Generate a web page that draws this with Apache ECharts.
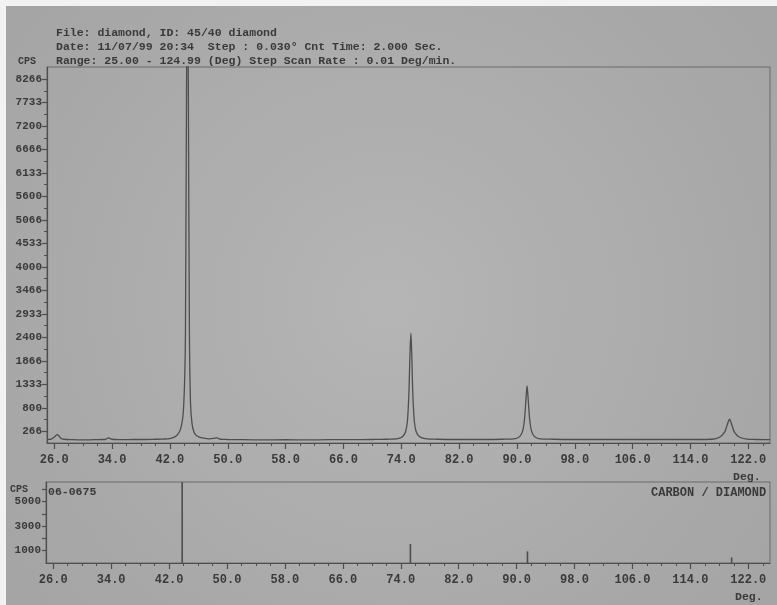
<!DOCTYPE html>
<html>
<head>
<meta charset="utf-8">
<script src="https://cdn.jsdelivr.net/npm/echarts@6/dist/echarts.min.js"></script>
<style>
html,body{margin:0;padding:0;background:#fff;}
#c{width:777px;height:605px;}
</style>
</head>
<body>
<div id="c"></div>
<script>
// ---- data ----
var xTickLabels = [26, 34, 42, 50, 58, 66, 74, 82, 90, 98, 106, 114, 122];
var xMinorTicks = [28, 30, 32, 36, 38, 40, 44, 46, 48, 52, 54, 56, 60, 62, 64, 68, 70, 72, 76, 78, 80, 84, 86, 88, 92, 94, 96, 100, 102, 104, 108, 110, 112, 116, 118, 120, 124];
var yTickLabels = [266, 800, 1333, 1866, 2400, 2933, 3466, 4000, 4533, 5066, 5600, 6133, 6666, 7200, 7733, 8266];
var yMinorTicks = [533, 1066, 1600, 2133, 2666, 3200, 3733, 4266, 4800, 5333, 5866, 6400, 6933, 7466, 8000];
var refTickLabels = [1000, 3000, 5000];
var refTicks = [1000, 2000, 3000, 4000, 5000, 6000];

// measured pattern: 2-theta (deg)
var scanAngle = [25.0, 25.6, 26.1, 26.4, 26.6, 26.9, 27.3, 28.5, 30.0, 31.5, 33.0, 33.5, 34.0, 35.5, 37.0, 38.5, 40.0, 41.0, 42.0, 42.8, 43.3, 43.6, 43.85, 44.05, 44.15, 44.3, 44.42, 44.55, 44.7, 44.85, 45.05, 45.3, 45.6, 46.0, 46.5, 47.5, 48.5, 49.0, 50.0, 52.0, 55.0, 58.0, 61.0, 64.0, 67.0, 70.0, 72.0, 73.5, 74.2, 74.6, 74.85, 75.05, 75.2, 75.33, 75.45, 75.6, 75.8, 76.05, 76.5, 77.3, 79.0, 82.0, 85.0, 88.0, 89.8, 90.4, 90.8, 91.05, 91.25, 91.4, 91.55, 91.75, 92.0, 92.4, 93.0, 95.0, 98.0, 101.0, 104.0, 107.0, 110.0, 113.0, 115.0, 117.0, 118.0, 118.7, 119.1, 119.4, 119.7, 120.1, 120.8, 121.8, 123.0, 125.0];
// measured pattern: counts (CPS)
var scanCounts = [80, 90, 150, 190, 170, 110, 85, 75, 70, 75, 80, 115, 85, 75, 80, 80, 85, 90, 100, 150, 250, 400, 700, 1500, 2500, 8000, 11000, 8000, 2500, 900, 450, 260, 180, 140, 115, 95, 115, 85, 80, 75, 70, 75, 70, 75, 75, 80, 85, 100, 150, 260, 500, 1100, 2000, 2494, 2000, 1100, 500, 260, 150, 100, 85, 80, 80, 85, 100, 150, 280, 550, 1000, 1298, 1000, 550, 280, 150, 100, 85, 80, 80, 80, 80, 80, 80, 80, 85, 130, 240, 420, 542, 420, 240, 130, 90, 80, 75];

// reference card 06-0675 stick lines
var refAngle = [43.81, 75.33, 91.5, 119.7];
var refIntensity = [6600, 1550, 950, 450];

// ---- build ----
var scan = scanAngle.map(function (a, i) { return [a, scanCounts[i]]; });
var ref = refAngle.map(function (a, i) { return [a, refIntensity[i]]; });

var FONT = '"Liberation Mono", "DejaVu Sans Mono", monospace';
var INK = '#3a3a3a';
var LINE = '#4e4e4e';
function plain(v) { return String(Math.round(v)); }

function xMain(grid) {
  return {
    type: 'value', gridIndex: grid, min: 25, max: 125, position: 'bottom',
    axisLine: { show: true, onZero: false, lineStyle: { color: LINE, width: 1.2 } },
    axisTick: { show: true, length: 6, customValues: xTickLabels, lineStyle: { color: LINE, width: 1.2 } },
    axisLabel: { customValues: xTickLabels, margin: 11, color: INK, fontFamily: FONT, fontSize: 12, fontWeight: 'bold',
      formatter: function (v) { return v.toFixed(1); } },
    splitLine: { show: false }
  };
}
function xMinor(grid) {
  return {
    type: 'value', gridIndex: grid, min: 25, max: 125, position: 'bottom',
    axisLine: { show: false },
    axisTick: { show: true, length: 3, customValues: xMinorTicks, lineStyle: { color: LINE, width: 1 } },
    axisLabel: { show: false },
    splitLine: { show: false }
  };
}

var chart = echarts.init(document.getElementById('c'), null, { renderer: 'canvas' });
chart.setOption({
  animation: false,
  backgroundColor: {
    type: 'radial', x: 0.5, y: 0.5, r: 0.75,
    colorStops: [{ offset: 0, color: '#b5b5b5' }, { offset: 1, color: '#a5a5a5' }]
  },
  grid: [
    { left: 47, top: 67, right: 7, height: 376, show: true, borderColor: '#6a6a6a', borderWidth: 1, backgroundColor: 'transparent' },
    { left: 46, top: 482, right: 7, height: 81, show: true, borderColor: '#6a6a6a', borderWidth: 1, backgroundColor: 'transparent' }
  ],
  xAxis: [xMain(0), xMinor(0), xMain(1), xMinor(1)],
  yAxis: [
    { type: 'value', gridIndex: 0, min: 0, max: 8540, position: 'left',
      axisLine: { show: true, lineStyle: { color: LINE, width: 1.2 } },
      axisTick: { show: true, length: 5, customValues: yTickLabels, lineStyle: { color: LINE, width: 1.2 } },
      axisLabel: { customValues: yTickLabels, margin: 5, color: INK, fontFamily: FONT, fontSize: 11, fontWeight: 'bold', padding: [0, 0, 6, 0], formatter: plain },
      splitLine: { show: false } },
    { type: 'value', gridIndex: 0, min: 0, max: 8540, position: 'left',
      axisLine: { show: false },
      axisTick: { show: true, length: 3, customValues: yMinorTicks, lineStyle: { color: LINE, width: 1 } },
      axisLabel: { show: false }, splitLine: { show: false } },
    { type: 'value', gridIndex: 1, min: 0, max: 6600, position: 'left',
      axisLine: { show: true, lineStyle: { color: LINE, width: 1.2 } },
      axisTick: { show: true, length: 4, customValues: refTicks, lineStyle: { color: LINE, width: 1.2 } },
      axisLabel: { customValues: refTickLabels, margin: 5, color: INK, fontFamily: FONT, fontSize: 11, fontWeight: 'bold', padding: [0, 0, 6, 0], formatter: plain },
      splitLine: { show: false } }
  ],
  series: [
    { type: 'line', xAxisIndex: 0, yAxisIndex: 0, data: scan, showSymbol: false, smooth: 0.3, clip: true,
      lineStyle: { color: LINE, width: 1.3 } },
    { type: 'bar', xAxisIndex: 2, yAxisIndex: 2, data: ref, barWidth: 1.6, clip: true,
      itemStyle: { color: LINE } }
  ],
  graphic: [
    { type: 'rect', left: 0, top: 0, shape: { width: 777, height: 6 }, style: { fill: '#f2f2f2' }, z: 100 },
    { type: 'rect', left: 0, top: 0, shape: { width: 6, height: 605 }, style: { fill: '#f2f2f2' }, z: 100 },
    { type: 'text', left: 56, top: 27, style: { text: 'File: diamond, ID: 45/40 diamond', fill: INK, font: 'bold 11.5px ' + FONT } },
    { type: 'text', left: 56, top: 41, style: { text: 'Date: 11/07/99 20:34  Step : 0.030\u00b0 Cnt Time: 2.000 Sec.', fill: INK, font: 'bold 11.5px ' + FONT } },
    { type: 'text', left: 56, top: 55, style: { text: 'Range: 25.00 - 124.99 (Deg) Step Scan Rate : 0.01 Deg/min.', fill: INK, font: 'bold 11.5px ' + FONT } },
    { type: 'text', left: 18, top: 56, style: { text: 'CPS', fill: INK, font: 'bold 10px ' + FONT } },
    { type: 'text', left: 733, top: 471, style: { text: 'Deg.', fill: INK, font: 'bold 11.5px ' + FONT } },
    { type: 'text', left: 10, top: 484, style: { text: 'CPS', fill: INK, font: 'bold 10px ' + FONT } },
    { type: 'text', left: 48, top: 486, style: { text: '06-0675', fill: INK, font: 'bold 11.5px ' + FONT } },
    { type: 'text', left: 651, top: 487, style: { text: 'CARBON / DIAMOND', fill: INK, font: 'bold 12px ' + FONT } },
    { type: 'text', left: 735, top: 591, style: { text: 'Deg.', fill: INK, font: 'bold 11.5px ' + FONT } }
  ]
});
</script>
</body>
</html>
